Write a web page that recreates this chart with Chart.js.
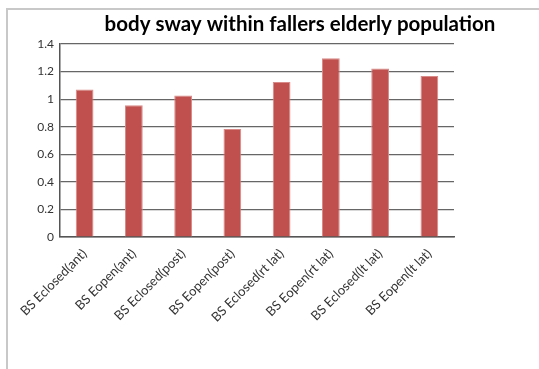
<!DOCTYPE html>
<html>
<head>
<meta charset="utf-8">
<script src="https://cdn.jsdelivr.net/npm/chart.js@4/dist/chart.umd.min.js"></script>
<style>
html,body{margin:0;padding:0;background:#fff;}
#wrap{position:relative;width:539px;height:369px;overflow:hidden;}
#frame{position:absolute;left:6px;top:8px;width:600px;height:400px;border-left:2px solid #c8c8c8;border-top:2px solid #c8c8c8;box-sizing:border-box;}
canvas{position:absolute;left:0;top:0;}
</style>
</head>
<body>
<div id="wrap">
<div id="frame"></div>
<canvas id="c" width="539" height="369"></canvas>
</div>
<script>
const chartTitle = "body sway within fallers elderly population";
const categories = ["BS Eclosed(ant)","BS Eopen(ant)","BS Eclosed(post)","BS Eopen(post)","BS Eclosed(rt lat)","BS Eopen(rt lat)","BS Eclosed(lt lat)","BS Eopen(lt lat)"];
const values = [1.07, 0.955, 1.027, 0.783, 1.124, 1.296, 1.223, 1.167];
const yTicks = [0, 0.2, 0.4, 0.6, 0.8, 1, 1.2, 1.4];

const titlePlugin = {
  id: 'offsetTitle',
  afterDraw(chart) {
    const ctx = chart.ctx, a = chart.chartArea;
    ctx.save();
    ctx.font = 'bold 20.5px Lato, "Open Sans", sans-serif';
    ctx.fillStyle = '#000';
    ctx.textAlign = 'center';
    ctx.textBaseline = 'middle';
    ctx.fillText(chartTitle, (a.left + a.right) / 2 + 43, 24);
    ctx.restore();
  }
};

new Chart(document.getElementById('c'), {
  type: 'bar',
  data: {
    labels: categories,
    datasets: [{
      data: values,
      backgroundColor: '#c0504d',
      borderColor: '#d88a88',
      borderWidth: {left:1,right:1,top:1,bottom:0},
      barPercentage: 0.36,
      categoryPercentage: 1.0
    }]
  },
  options: {
    responsive: false,
    animation: false,
    devicePixelRatio: 1,
    layout: { padding: { left: 20, right: 85, top: 44, bottom: 0 } },
    plugins: { legend: { display: false }, title: { display: false }, tooltip: { enabled: false } },
    scales: {
      x: {
        grid: { display: false, drawTicks: false },
        border: { display: true, color: '#555', width: 1.5 },
        ticks: {
          color: '#333',
          font: { family: 'Lato, "Open Sans", sans-serif', size: 13 },
          minRotation: 45, maxRotation: 45,
          padding: 9
        },
        afterFit(s) { s.height = 132; }
      },
      y: {
        min: 0, max: 1.4,
        afterBuildTicks(s) { s.ticks = yTicks.map(v => ({ value: v })); },
        grid: { color: '#666', lineWidth: 1.2, drawTicks: false },
        border: { display: true, color: '#555', width: 1.5 },
        ticks: {
          color: '#333',
          font: { family: 'Lato, "Open Sans", sans-serif', size: 12 },
          padding: 6,
          callback: v => String(v)
        },
        afterFit(s) { s.width = 40; }
      }
    }
  },
  plugins: [titlePlugin]
});
</script>
</body>
</html>
